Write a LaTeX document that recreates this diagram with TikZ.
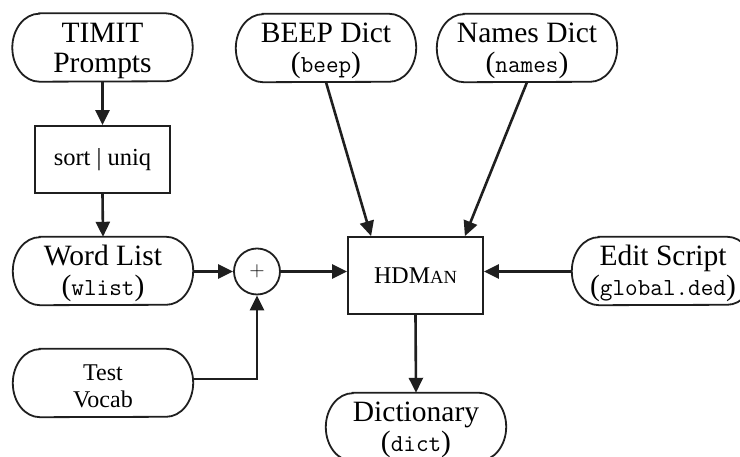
\documentclass[tikz,border=0pt]{standalone}
\usepackage{fontspec}
\setmainfont{Liberation Serif}
\usetikzlibrary{arrows.meta,calc}
\tikzset{
  border/.style={line width=1.8pt, draw=black!88},
  conn/.style={line width=2.6pt, draw=black!88, -{Triangle[length=15pt,width=14pt]}},
  term/.style={minimum width=180pt, minimum height=68pt, inner sep=0pt, align=center,
    font=\fontsize{29.5}{30}\selectfont},
  procbox/.style={border, rectangle, inner sep=0pt, align=center, font=\fontsize{24.5}{26}\selectfont},
}
\newcommand{\mytt}[1]{{\fontsize{24.5}{24}\ttfamily #1}}
\begin{document}
\begin{tikzpicture}[x=1pt,y=1pt]
\useasboundingbox (0,0) rectangle (740,457);
\node[term] (timit) at (102.5,409.5) {\rule{0pt}{26pt}TIMIT\\Prompts};
\node[procbox, minimum width=135pt, minimum height=67pt] (sort) at (102.5,297.5) {sort | uniq};
\node[term] (beep) at (326,409) {\rule{0pt}{26pt}BEEP Dict\\(\mytt{beep})};
\node[term] (names) at (527,409) {\rule{0pt}{26pt}Names Dict\\(\mytt{names})};
\node[term] (wlist) at (103,186) {\rule{0pt}{26pt}Word List\\(\mytt{wlist})};
\node[border, circle, minimum size=46pt, inner sep=0pt, font=\fontsize{21}{21}\sffamily] (plus) at (257,185.5) {+};
\node[term, font=\fontsize{24}{27}\selectfont] (test) at (103,74) {\rule{0pt}{22pt}Test\\Vocab};
\node[procbox, minimum width=135pt, minimum height=77pt, font=\fontsize{24}{26}\selectfont] (hdman) at (415.5,181.5) {HDM{\fontsize{18.5}{20}\selectfont AN}};
\node[term, minimum width=182pt] (edit) at (663,186) {\rule{0pt}{26pt}Edit Script\\(\mytt{global.ded})};
\node[term] (dict) at (416,30) {\rule{0pt}{26pt}Dictionary\\(\mytt{dict})};
\foreach \n in {timit,beep,names,wlist,test,edit,dict} {
  \draw[border] ([xshift=27pt]\n.north west) -- ([xshift=-27pt]\n.north east)
    arc[start angle=90,end angle=-90,x radius=27pt,y radius=34pt]
    -- ([xshift=27pt]\n.south west)
    arc[start angle=270,end angle=90,x radius=27pt,y radius=34pt] -- cycle;
}
\draw[conn] (timit.south) -- (sort.north);
\draw[conn] (sort.south) -- (wlist.north);
\draw[conn] (wlist.east |- plus.west) -- (plus.west);
\draw[conn] ([yshift=4pt]test.east) -| (plus.south);
\draw[conn] (plus.east) -- (plus.east -| hdman.west);
\draw[conn] (beep.south) -- ([xshift=24pt]hdman.north west);
\draw[conn] (names.south) -- ([xshift=-19pt]hdman.north east);
\draw[conn] (edit.west |- plus.east) -- (plus.east -| hdman.east);
\draw[conn] (hdman.south) -- (dict.north);
\end{tikzpicture}
\end{document}
